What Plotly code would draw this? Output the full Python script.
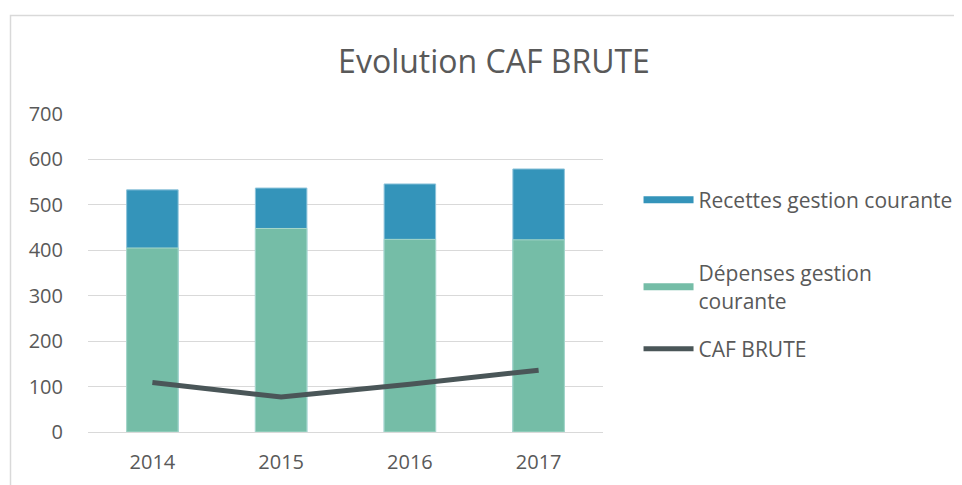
import plotly.graph_objects as go

years = ["2014", "2015", "2016", "2017"]
recettes = [533, 537, 546, 579]
depenses = [405, 448, 424, 423]
caf_brute = [109, 77, 105, 136]

name_rec = "Recettes gestion courante"
name_dep = "Dépenses gestion<br>courante"
name_caf = "CAF BRUTE"

c_rec = "#3494BA"
c_dep = "#75BDA7"
c_caf = "#4A5658"
txt = "#595959"
grid = "#D9D9D9"
font = "Open Sans"

fig = go.Figure()
fig.add_trace(go.Bar(x=years, y=recettes, name=name_rec, marker=dict(color=c_rec, line=dict(width=1, color="#8CC3DA")),
                     showlegend=False))
fig.add_trace(go.Bar(x=years, y=depenses, name=name_dep, marker=dict(color=c_dep, line=dict(width=1, color="#A8D8CA")),
                     showlegend=False))
fig.add_trace(go.Scatter(x=years, y=caf_brute, name=name_caf, mode="lines",
                         line=dict(color=c_caf, width=5), showlegend=False))

# legend entries (swatches like the original)
fig.add_trace(go.Scatter(x=[None], y=[None], mode="lines", name=name_rec,
                         line=dict(color=c_rec, width=7), legend="legend"))
fig.add_trace(go.Scatter(x=[None], y=[None], mode="lines", name=name_dep,
                         line=dict(color=c_dep, width=7), legend="legend2"))
fig.add_trace(go.Scatter(x=[None], y=[None], mode="lines", name=name_caf,
                         line=dict(color=c_caf, width=5), legend="legend3"))

leg = dict(font=dict(family=font, size=21, color=txt), bgcolor="rgba(0,0,0,0)",
           xanchor="left", yanchor="middle", itemwidth=50)

fig.update_layout(
    width=962, height=485,
    margin=dict(l=80, r=367, t=106, b=61),
    paper_bgcolor="white", plot_bgcolor="white",
    barmode="overlay", bargap=0.6,
    title=dict(text="Evolution CAF BRUTE", x=486/962, xanchor="center",
               y=1-54/485, yanchor="middle",
               font=dict(family=font, size=32, color=txt)),
    font=dict(family=font, size=20, color=txt),
    legend=dict(leg, x=1.069, y=(432-200)/318),
    legend2=dict(leg, x=1.069, y=(432-287)/318),
    legend3=dict(leg, x=1.069, y=(432-349)/318),
    xaxis=dict(showgrid=False, showline=True, linecolor=grid, linewidth=1,
               tickfont=dict(family=font, size=20, color=txt), ticklabelstandoff=12),
    yaxis=dict(range=[0, 700], dtick=100, showgrid=True, gridcolor=grid, gridwidth=1,
               zeroline=False, showline=False,
               tickfont=dict(family=font, size=20, color=txt), ticklabelstandoff=24),
    shapes=[dict(type="rect", xref="paper", yref="paper",
                 x0=(10.5-88)/515, x1=2.0, y0=-1.0, y1=(432-15.5)/318,
                 line=dict(color=grid, width=1.5), fillcolor="rgba(0,0,0,0)", layer="below")],
)

fig.write_html("out.html")
